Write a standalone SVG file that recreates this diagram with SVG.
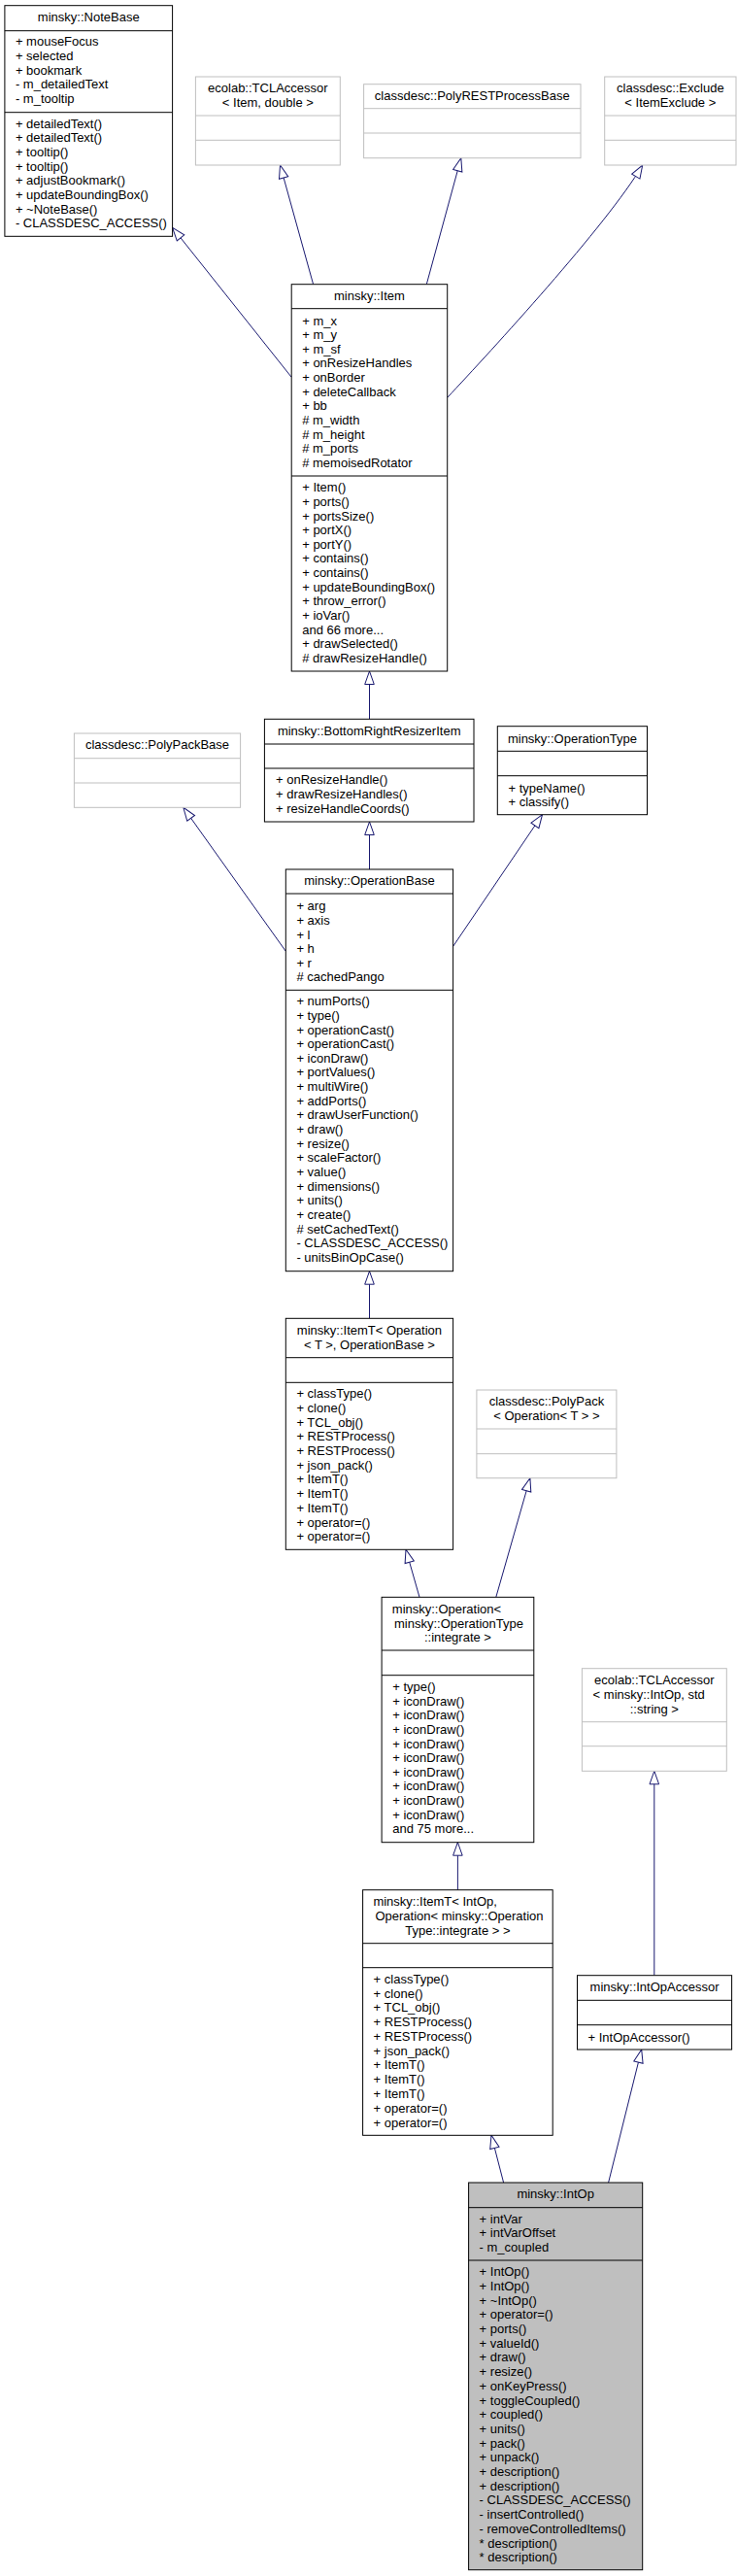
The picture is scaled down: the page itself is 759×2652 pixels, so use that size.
<svg xmlns="http://www.w3.org/2000/svg" width="759" height="2652" viewBox="0 0 759 2652">
<style>
.t{font-family:"Liberation Sans",Arial,sans-serif;font-size:13px;fill:#000}
.c{text-anchor:middle}
.b{fill:#fff;stroke:#000;stroke-width:1}
.g{fill:#fff;stroke:#bfbfbf;stroke-width:1}
.sel{fill:#bfbfbf;stroke:#000;stroke-width:1}
.s{fill:none;stroke:#000;stroke-width:1}
.sg{fill:none;stroke:#bfbfbf;stroke-width:1}
.e{fill:none;stroke:#191970;stroke-width:1;marker-end:url(#tri)}
</style>
<defs>
<marker id="tri" markerWidth="16" markerHeight="12" refX="14.5" refY="6" orient="auto" markerUnits="userSpaceOnUse">
<path d="M1,1.2 L14.5,6 L1,10.8 Z" fill="#fff" stroke="#191970" stroke-width="1"/>
</marker>
</defs>
<rect width="759" height="2652" fill="#fff"/>

<g id="edges">
<path class="e" d="M300.2,388.3 L177.6,234.3"/>
<path class="e" d="M322.6,292.7 L288.5,170"/>
<path class="e" d="M439.3,292.7 L474.8,162.7"/>
<path class="e" d="M460.7,409.3 C505,362 625,232 661.7,170"/>
<path class="e" d="M380.5,740.3 L380.5,691"/>
<path class="e" d="M294.3,979.3 L188.8,831.3"/>
<path class="e" d="M380.5,895 L380.5,846"/>
<path class="e" d="M466.6,974.3 L558.5,838.7"/>
<path class="e" d="M380.5,1357.3 L380.5,1308.7"/>
<path class="e" d="M432,1644.3 L418,1595.3"/>
<path class="e" d="M510.8,1644.3 L545.9,1521.7"/>
<path class="e" d="M471.4,1945.7 L471.4,1896.7"/>
<path class="e" d="M673.8,2033.7 L673.8,1823.3"/>
<path class="e" d="M518.6,2247 L506,2198.3"/>
<path class="e" d="M626.6,2247 L660.7,2110"/>
</g>

<g id="NoteBase">
<rect class="b" x="4.9" y="5.7" width="172.7" height="237.6"/>
<path class="s" d="M4.9,31.7H177.6M4.9,115.7H177.6"/>
<text class="t c" x="91.25" y="22.2">minsky::NoteBase</text>
<text class="t" x="15.9" y="47.3"><tspan x="15.9">+ mouseFocus</tspan><tspan x="15.9" dy="14.7">+ selected</tspan><tspan x="15.9" dy="14.7">+ bookmark</tspan><tspan x="15.9" dy="14.7">- m_detailedText</tspan><tspan x="15.9" dy="14.7">- m_tooltip</tspan></text>
<text class="t" x="15.9" y="131.5"><tspan x="15.9">+ detailedText()</tspan><tspan x="15.9" dy="14.7">+ detailedText()</tspan><tspan x="15.9" dy="14.7">+ tooltip()</tspan><tspan x="15.9" dy="14.7">+ tooltip()</tspan><tspan x="15.9" dy="14.7">+ adjustBookmark()</tspan><tspan x="15.9" dy="14.7">+ updateBoundingBox()</tspan><tspan x="15.9" dy="14.7">+ ~NoteBase()</tspan><tspan x="15.9" dy="14.7">- CLASSDESC_ACCESS()</tspan></text>
</g>

<g id="TCLAccessorItem">
<rect class="g" x="201.4" y="79" width="148.9" height="91"/>
<path class="sg" d="M201.4,119H350.3M201.4,144.3H350.3"/>
<text class="t c" x="275.85" y="95.2">ecolab::TCLAccessor</text>
<text class="t c" x="275.85" y="110.2">&lt; Item, double &gt;</text>
</g>

<g id="PolyRESTProcessBase">
<rect class="g" x="374.6" y="86.7" width="223.4" height="76"/>
<path class="sg" d="M374.6,111.7H598M374.6,137H598"/>
<text class="t c" x="486.3" y="103.2">classdesc::PolyRESTProcessBase</text>
</g>

<g id="ExcludeItem">
<rect class="g" x="622.7" y="79" width="135.3" height="91"/>
<path class="sg" d="M622.7,119H758M622.7,144.3H758"/>
<text class="t c" x="690.35" y="95.2">classdesc::Exclude</text>
<text class="t c" x="690.35" y="110.2">&lt; ItemExclude &gt;</text>
</g>

<g id="Item">
<rect class="b" x="300.2" y="292.7" width="160.5" height="398.3"/>
<path class="s" d="M300.2,317.7H460.7M300.2,490H460.7"/>
<text class="t c" x="380.45" y="309.2">minsky::Item</text>
<text class="t" x="311.2" y="334.5"><tspan x="311.2">+ m_x</tspan><tspan x="311.2" dy="14.65">+ m_y</tspan><tspan x="311.2" dy="14.65">+ m_sf</tspan><tspan x="311.2" dy="14.65">+ onResizeHandles</tspan><tspan x="311.2" dy="14.65">+ onBorder</tspan><tspan x="311.2" dy="14.65">+ deleteCallback</tspan><tspan x="311.2" dy="14.65">+ bb</tspan><tspan x="311.2" dy="14.65"># m_width</tspan><tspan x="311.2" dy="14.65"># m_height</tspan><tspan x="311.2" dy="14.65"># m_ports</tspan><tspan x="311.2" dy="14.65"># memoisedRotator</tspan></text>
<text class="t" x="311.2" y="506.2"><tspan x="311.2">+ Item()</tspan><tspan x="311.2" dy="14.65">+ ports()</tspan><tspan x="311.2" dy="14.65">+ portsSize()</tspan><tspan x="311.2" dy="14.65">+ portX()</tspan><tspan x="311.2" dy="14.65">+ portY()</tspan><tspan x="311.2" dy="14.65">+ contains()</tspan><tspan x="311.2" dy="14.65">+ contains()</tspan><tspan x="311.2" dy="14.65">+ updateBoundingBox()</tspan><tspan x="311.2" dy="14.65">+ throw_error()</tspan><tspan x="311.2" dy="14.65">+ ioVar()</tspan><tspan x="311.2" dy="14.65">and 66 more...</tspan><tspan x="311.2" dy="14.65">+ drawSelected()</tspan><tspan x="311.2" dy="14.65"># drawResizeHandle()</tspan></text>
</g>

<g id="BottomRightResizerItem">
<rect class="b" x="272.4" y="740.3" width="215.6" height="105.7"/>
<path class="s" d="M272.4,766H488M272.4,791H488"/>
<text class="t c" x="380.2" y="757.2">minsky::BottomRightResizerItem</text>
<text class="t" x="284" y="807.2"><tspan x="284">+ onResizeHandle()</tspan><tspan x="284" dy="15">+ drawResizeHandles()</tspan><tspan x="284" dy="15">+ resizeHandleCoords()</tspan></text>
</g>

<g id="OperationType">
<rect class="b" x="512.3" y="747.7" width="154.2" height="91"/>
<path class="s" d="M512.3,773.3H666.5M512.3,798.7H666.5"/>
<text class="t c" x="589.4" y="764.5">minsky::OperationType</text>
<text class="t" x="523.5" y="815.5"><tspan x="523.5">+ typeName()</tspan><tspan x="523.5" dy="14.3">+ classify()</tspan></text>
</g>

<g id="PolyPackBase">
<rect class="g" x="76.4" y="755" width="171.2" height="76.3"/>
<path class="sg" d="M76.4,780.7H247.6M76.4,806H247.6"/>
<text class="t c" x="162" y="771.2">classdesc::PolyPackBase</text>
</g>

<g id="OperationBase">
<rect class="b" x="294.3" y="895" width="172.3" height="413.7"/>
<path class="s" d="M294.3,920H466.6M294.3,1019.3H466.6"/>
<text class="t c" x="380.45" y="911.2">minsky::OperationBase</text>
<text class="t" x="305.4" y="937.2"><tspan x="305.4">+ arg</tspan><tspan x="305.4" dy="14.65">+ axis</tspan><tspan x="305.4" dy="14.65">+ l</tspan><tspan x="305.4" dy="14.65">+ h</tspan><tspan x="305.4" dy="14.65">+ r</tspan><tspan x="305.4" dy="14.65"># cachedPango</tspan></text>
<text class="t" x="305.4" y="1035.2"><tspan x="305.4">+ numPorts()</tspan><tspan x="305.4" dy="14.65">+ type()</tspan><tspan x="305.4" dy="14.65">+ operationCast()</tspan><tspan x="305.4" dy="14.65">+ operationCast()</tspan><tspan x="305.4" dy="14.65">+ iconDraw()</tspan><tspan x="305.4" dy="14.65">+ portValues()</tspan><tspan x="305.4" dy="14.65">+ multiWire()</tspan><tspan x="305.4" dy="14.65">+ addPorts()</tspan><tspan x="305.4" dy="14.65">+ drawUserFunction()</tspan><tspan x="305.4" dy="14.65">+ draw()</tspan><tspan x="305.4" dy="14.65">+ resize()</tspan><tspan x="305.4" dy="14.65">+ scaleFactor()</tspan><tspan x="305.4" dy="14.65">+ value()</tspan><tspan x="305.4" dy="14.65">+ dimensions()</tspan><tspan x="305.4" dy="14.65">+ units()</tspan><tspan x="305.4" dy="14.65">+ create()</tspan><tspan x="305.4" dy="14.65"># setCachedText()</tspan><tspan x="305.4" dy="14.65">- CLASSDESC_ACCESS()</tspan><tspan x="305.4" dy="14.65">- unitsBinOpCase()</tspan></text>
</g>

<g id="ItemTOperationT">
<rect class="b" x="294.3" y="1357.3" width="172.3" height="238"/>
<path class="s" d="M294.3,1397.7H466.6M294.3,1423.3H466.6"/>
<text class="t c" x="380.45" y="1374.2">minsky::ItemT&lt; Operation</text>
<text class="t c" x="380.45" y="1389.2">&lt; T &gt;, OperationBase &gt;</text>
<text class="t" x="305.4" y="1439.2"><tspan x="305.4">+ classType()</tspan><tspan x="305.4" dy="14.7">+ clone()</tspan><tspan x="305.4" dy="14.7">+ TCL_obj()</tspan><tspan x="305.4" dy="14.7">+ RESTProcess()</tspan><tspan x="305.4" dy="14.7">+ RESTProcess()</tspan><tspan x="305.4" dy="14.7">+ json_pack()</tspan><tspan x="305.4" dy="14.7">+ ItemT()</tspan><tspan x="305.4" dy="14.7">+ ItemT()</tspan><tspan x="305.4" dy="14.7">+ ItemT()</tspan><tspan x="305.4" dy="14.7">+ operator=()</tspan><tspan x="305.4" dy="14.7">+ operator=()</tspan></text>
</g>

<g id="PolyPackOperationT">
<rect class="g" x="490.9" y="1431" width="144" height="90.7"/>
<path class="sg" d="M490.9,1471H634.9M490.9,1496.7H634.9"/>
<text class="t c" x="562.9" y="1447.2">classdesc::PolyPack</text>
<text class="t c" x="562.9" y="1462.2">&lt; Operation&lt; T &gt; &gt;</text>
</g>

<g id="OperationIntegrate">
<rect class="b" x="393.1" y="1644.3" width="156.7" height="252.4"/>
<path class="s" d="M393.1,1699H549.8M393.1,1724.7H549.8"/>
<text class="t" x="403.8" y="1661.2">minsky::Operation&lt;</text>
<text class="t c" x="472.5" y="1675.7">minsky::OperationType</text>
<text class="t c" x="471.45" y="1690.2">::integrate &gt;</text>
<text class="t" x="404.2" y="1741.2"><tspan x="404.2">+ type()</tspan><tspan x="404.2" dy="14.6">+ iconDraw()</tspan><tspan x="404.2" dy="14.6">+ iconDraw()</tspan><tspan x="404.2" dy="14.6">+ iconDraw()</tspan><tspan x="404.2" dy="14.6">+ iconDraw()</tspan><tspan x="404.2" dy="14.6">+ iconDraw()</tspan><tspan x="404.2" dy="14.6">+ iconDraw()</tspan><tspan x="404.2" dy="14.6">+ iconDraw()</tspan><tspan x="404.2" dy="14.6">+ iconDraw()</tspan><tspan x="404.2" dy="14.6">+ iconDraw()</tspan><tspan x="404.2" dy="14.6">and 75 more...</tspan></text>
</g>

<g id="TCLAccessorIntOp">
<rect class="g" x="599.4" y="1717.7" width="148.9" height="105.6"/>
<path class="sg" d="M599.4,1772.7H748.3M599.4,1797.7H748.3"/>
<text class="t c" x="673.85" y="1734.2">ecolab::TCLAccessor</text>
<text class="t" x="610.6" y="1749.2">&lt; minsky::IntOp, std</text>
<text class="t c" x="673.85" y="1763.5">::string &gt;</text>
</g>

<g id="ItemTIntOp">
<rect class="b" x="373.6" y="1945.7" width="195.6" height="252.6"/>
<path class="s" d="M373.6,2000.7H569.2M373.6,2025.7H569.2"/>
<text class="t" x="384.4" y="1962.2">minsky::ItemT&lt; IntOp,</text>
<text class="t c" x="473" y="1977.2">Operation&lt; minsky::Operation</text>
<text class="t c" x="471.4" y="1991.5">Type::integrate &gt; &gt;</text>
<text class="t" x="384.6" y="2041.8"><tspan x="384.6">+ classType()</tspan><tspan x="384.6" dy="14.77">+ clone()</tspan><tspan x="384.6" dy="14.77">+ TCL_obj()</tspan><tspan x="384.6" dy="14.77">+ RESTProcess()</tspan><tspan x="384.6" dy="14.77">+ RESTProcess()</tspan><tspan x="384.6" dy="14.77">+ json_pack()</tspan><tspan x="384.6" dy="14.77">+ ItemT()</tspan><tspan x="384.6" dy="14.77">+ ItemT()</tspan><tspan x="384.6" dy="14.77">+ ItemT()</tspan><tspan x="384.6" dy="14.77">+ operator=()</tspan><tspan x="384.6" dy="14.77">+ operator=()</tspan></text>
</g>

<g id="IntOpAccessor">
<rect class="b" x="594.5" y="2033.7" width="159.1" height="76.3"/>
<path class="s" d="M594.5,2059.3H753.6M594.5,2084.7H753.6"/>
<text class="t c" x="674.05" y="2050.2">minsky::IntOpAccessor</text>
<text class="t" x="605.5" y="2101.5">+ IntOpAccessor()</text>
</g>

<g id="IntOp">
<rect class="sel" x="482.6" y="2247" width="179.1" height="398.7"/>
<path class="s" d="M482.6,2272.7H661.7M482.6,2327H661.7"/>
<text class="t c" x="572.15" y="2263.2">minsky::IntOp</text>
<text class="t" x="493.6" y="2288.8"><tspan x="493.6">+ intVar</tspan><tspan x="493.6" dy="14.5">+ intVarOffset</tspan><tspan x="493.6" dy="14.5">- m_coupled</tspan></text>
<text class="t" x="493.6" y="2343.2"><tspan x="493.6">+ IntOp()</tspan><tspan x="493.6" dy="14.7">+ IntOp()</tspan><tspan x="493.6" dy="14.7">+ ~IntOp()</tspan><tspan x="493.6" dy="14.7">+ operator=()</tspan><tspan x="493.6" dy="14.7">+ ports()</tspan><tspan x="493.6" dy="14.7">+ valueId()</tspan><tspan x="493.6" dy="14.7">+ draw()</tspan><tspan x="493.6" dy="14.7">+ resize()</tspan><tspan x="493.6" dy="14.7">+ onKeyPress()</tspan><tspan x="493.6" dy="14.7">+ toggleCoupled()</tspan><tspan x="493.6" dy="14.7">+ coupled()</tspan><tspan x="493.6" dy="14.7">+ units()</tspan><tspan x="493.6" dy="14.7">+ pack()</tspan><tspan x="493.6" dy="14.7">+ unpack()</tspan><tspan x="493.6" dy="14.7">+ description()</tspan><tspan x="493.6" dy="14.7">+ description()</tspan><tspan x="493.6" dy="14.7">- CLASSDESC_ACCESS()</tspan><tspan x="493.6" dy="14.7">- insertControlled()</tspan><tspan x="493.6" dy="14.7">- removeControlledItems()</tspan><tspan x="493.6" dy="14.7">* description()</tspan><tspan x="493.6" dy="14.7">* description()</tspan></text>
</g>
</svg>
